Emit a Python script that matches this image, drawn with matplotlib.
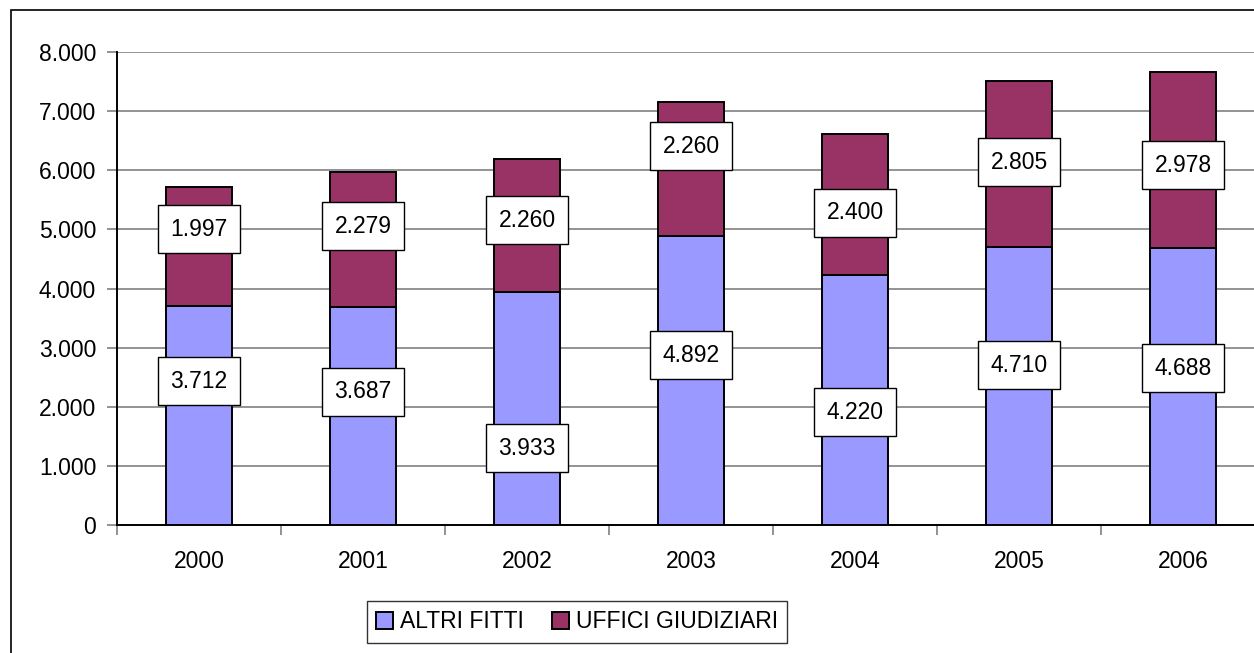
import matplotlib
matplotlib.use("Agg")
import matplotlib.pyplot as plt
from matplotlib.patches import Rectangle
from matplotlib.ticker import FixedLocator

plt.rcParams['font.family'] = ['Liberation Sans', 'DejaVu Sans']

years = ["2000", "2001", "2002", "2003", "2004", "2005", "2006"]
altri_fitti = [3712, 3687, 3933, 4892, 4220, 4710, 4688]
uffici_giudiziari = [1997, 2279, 2260, 2260, 2400, 2805, 2978]
altri_labels = ["3.712", "3.687", "3.933", "4.892", "4.220", "4.710", "4.688"]
uffici_labels = ["1.997", "2.279", "2.260", "2.260", "2.400", "2.805", "2.978"]
yticks = [0, 1000, 2000, 3000, 4000, 5000, 6000, 7000, 8000]
ytick_labels = ["0", "1.000", "2.000", "3.000", "4.000", "5.000", "6.000", "7.000", "8.000"]

# label anchor heights (as placed in original chart)
altri_label_y = [2435, 2250, 1302, 2875, 1911, 2706, 2655]
uffici_label_y = [5006, 5057, 5158, 6410, 5277, 6139, 6088]

FS = 16.5
W, H = 1254, 653
fig = plt.figure(figsize=(W / 100, H / 100), dpi=100)
fig.patch.set_facecolor("white")

# outer chart frame
fig.patches.append(Rectangle((11 / W, -0.05), 1.2, 1 - 10 / H + 0.05,
                             transform=fig.transFigure, fill=False,
                             edgecolor="black", linewidth=1.2))

ax = fig.add_axes([117 / W, 1 - 525 / H, (1265 - 117) / W, (525 - 52) / H])
x = list(range(len(years)))
c1, c2 = "#9999FF", "#993366"
ax.bar(x, altri_fitti, width=0.4, color=c1, edgecolor="black", linewidth=1.4,
       label="ALTRI FITTI", zorder=3)
ax.bar(x, uffici_giudiziari, width=0.4, bottom=altri_fitti, color=c2,
       edgecolor="black", linewidth=1.4, label="UFFICI GIUDIZIARI", zorder=3)

box = dict(boxstyle="square,pad=0.55", facecolor="white", edgecolor="black", linewidth=1)
for i in x:
    ax.text(i, altri_label_y[i], altri_labels[i], ha="center", va="center",
            fontsize=FS, bbox=box, zorder=5)
    ax.text(i, uffici_label_y[i], uffici_labels[i], ha="center", va="center",
            fontsize=FS, bbox=box, zorder=5)

ax.set_xlim(-0.5, 6.5)
ax.set_ylim(0, 8000)
ax.set_yticks(yticks)
ax.set_yticklabels(ytick_labels, fontsize=FS)
ax.yaxis.grid(True, color="#808080", linewidth=1.2, zorder=0)
ax.set_xticks(x)
ax.set_xticklabels(years, fontsize=FS)
ax.tick_params(axis="x", length=0, pad=18)
ax.xaxis.set_minor_locator(FixedLocator([i - 0.5 for i in range(len(years) + 1)]))
ax.tick_params(axis="x", which="minor", length=7, width=1.2, color="#808080")
ax.tick_params(axis="y", length=7, width=1.2, color="#808080", pad=8)
for s in ["top", "right"]:
    ax.spines[s].set_visible(False)
ax.spines["left"].set_color("black")
ax.spines["left"].set_linewidth(1.4)
ax.spines["bottom"].set_color("black")
ax.spines["bottom"].set_linewidth(1.4)
ax.set_axisbelow(True)

leg = fig.legend(loc="center", bbox_to_anchor=(577 / W, 1 - 622 / H), ncol=2,
                 fontsize=FS, frameon=True, fancybox=False, edgecolor="black",
                 handlelength=0.75, handleheight=0.75, handletextpad=0.3,
                 columnspacing=1.2, borderpad=0.4, borderaxespad=0)
leg.get_frame().set_linewidth(1.0)

fig.savefig("out.png", dpi=100, facecolor="white")
